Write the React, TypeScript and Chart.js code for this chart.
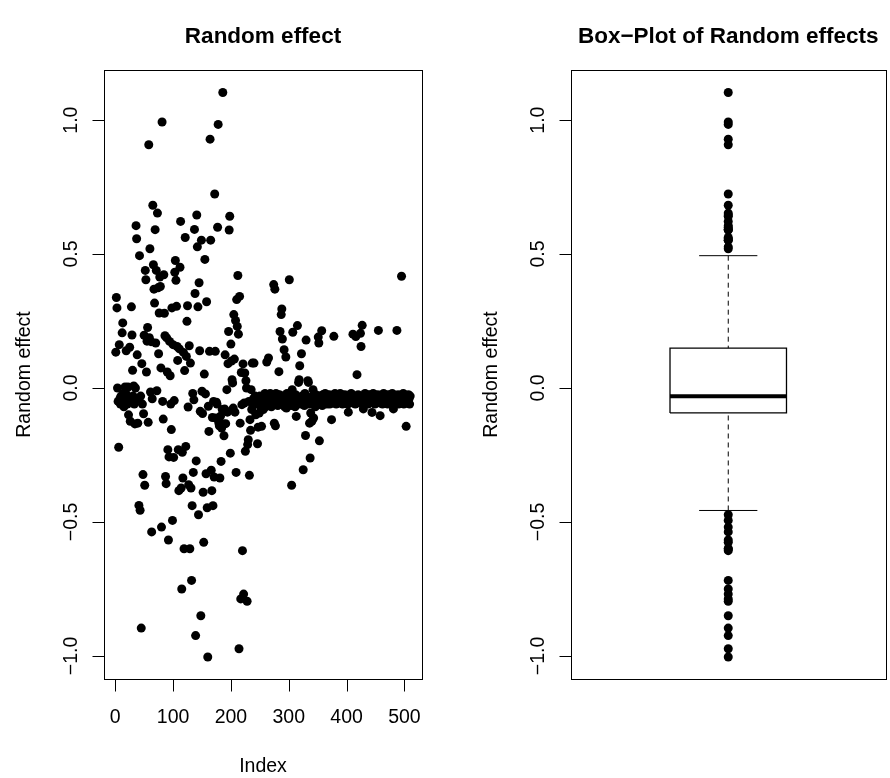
import React, { useEffect, useRef } from "react";
import { Chart, registerables } from "chart.js";

Chart.register(...registerables);

// ---- data ----
const randomEffect: number[] = [
  0.134, 0.338, 0.299, 0.0, -0.05, -0.221, 0.162, -0.04, -0.06, -0.03,
  -0.05, 0.206, 0.243, -0.02, -0.07, -0.03, 0.004, -0.05, 0.139, -0.025,
  -0.06, 0.004, -0.1, -0.04, 0.152, -0.124, -0.05, 0.303, 0.198, 0.066,
  -0.03, 0.008, -0.06, -0.134, 0.0, 0.606, 0.557, 0.124, -0.131, -0.04,
  -0.438, 0.494, -0.456, -0.03, -0.896, 0.091, -0.06, -0.323, -0.096, 0.197,
  -0.363, 0.439, 0.404, 0.06, 0.175, 0.226, -0.128, 0.908, 0.188, 0.52,
  -0.015, 0.173, -0.537, -0.04, 0.682, 0.46, 0.369, 0.317, 0.591, 0.168,
  0.439, -0.01, 0.653, 0.374, 0.128, 0.28, 0.414, 0.379, 0.075, -0.519,
  0.993, -0.05, -0.116, 0.423, 0.279, 0.195, -0.33, -0.357, 0.187, 0.06,
  -0.23, -0.567, -0.257, 0.174, 0.046, -0.06, -0.155, 0.299, -0.494, 0.162,
  -0.259, -0.047, 0.432, 0.476, 0.402, 0.305, 0.155, 0.103, -0.23, -0.383,
  0.146, 0.451, 0.622, -0.373, -0.75, -0.24, -0.336, 0.133, -0.6, 0.065,
  0.562, -0.218, 0.118, 0.249, 0.307, -0.071, -0.361, 0.158, -0.6, 0.093,
  -0.373, -0.718, -0.439, -0.02, -0.315, -0.044, 0.592, 0.353, -0.924, -0.272,
  0.646, 0.527, 0.303, -0.473, 0.393, 0.139, -0.087, -0.85, 0.552, -0.012,
  -0.095, -0.389, -0.576, 0.052, 0.48, -0.022, -0.32, 0.322, -0.447, -1.004,
  -0.068, -0.162, 0.137, 0.929, 0.552, -0.307, -0.383, -0.11, -0.439, -0.05,
  -0.332, 0.724, 0.137, -0.112, -0.053, -0.06, 0.6, 0.984, -0.13, -0.141,
  -0.336, -0.105, -0.274, -0.149, -0.08, 1.103, -0.134, -0.178, -0.078, 0.124,
  -0.133, -0.087, -0.006, -0.09, 0.091, 0.211, 0.59, 0.641, -0.243, 0.164,
  0.101, 0.031, 0.019, -0.075, 0.274, 0.108, -0.09, 0.252, -0.315, 0.33,
  0.23, 0.42, 0.201, -0.973, 0.342, -0.131, -0.787, 0.058, -0.062, -0.607,
  0.09, -0.769, -0.056, 0.056, -0.236, 0.027, 0.0, -0.796, -0.211, -0.193,
  -0.05, -0.326, -0.118, -0.158, -0.006, -0.08, 0.093, -0.058, -0.04, 0.093,
  -0.05, -0.03, -0.1, -0.06, -0.04, -0.208, -0.146, -0.05, -0.093, -0.03,
  -0.068, -0.045, -0.143, -0.06, -0.03, -0.08, -0.04, -0.05, -0.02, -0.07,
  -0.04, 0.097, -0.05, -0.03, 0.112, -0.06, -0.04, -0.02, -0.05, -0.07,
  -0.03, -0.045, -0.06, 0.386, -0.131, 0.369, -0.141, -0.02, -0.05, -0.035,
  -0.065, -0.04, 0.061, -0.025, 0.211, -0.055, 0.274, 0.295, 0.183, -0.03,
  -0.05, 0.143, -0.07, -0.035, 0.116, -0.075, -0.02, -0.045, -0.06, -0.03,
  0.404, -0.05, -0.04, -0.065, -0.363, -0.006, 0.208, -0.03, -0.055, -0.04,
  -0.07, -0.025, -0.106, -0.05, 0.233, -0.035, 0.021, 0.031, 0.083, -0.045,
  -0.06, 0.128, -0.03, -0.05, -0.305, -0.04, -0.065, -0.02, -0.177, 0.179,
  -0.05, -0.035, 0.027, 0.021, -0.06, -0.131, -0.261, -0.093, -0.04, -0.124,
  -0.03, -0.006, -0.112, -0.055, -0.045, -0.07, -0.025, -0.05, -0.04, -0.06,
  0.19, 0.168, -0.197, -0.03, -0.05, -0.04, 0.214, -0.065, -0.025, -0.045,
  -0.035, -0.055, -0.02, -0.05, -0.04, -0.06, -0.03, -0.045, -0.05, -0.025,
  -0.06, -0.035, -0.04, -0.118, -0.05, -0.03, -0.055, 0.193, -0.04, -0.02,
  -0.045, -0.06, -0.03, -0.05, -0.035, -0.025, -0.055, -0.04, -0.02, -0.05,
  -0.045, -0.03, -0.06, -0.035, -0.04, -0.05, -0.025, -0.055, -0.03, -0.045,
  -0.04, -0.06, -0.09, -0.03, -0.05, -0.035, -0.045, -0.02, -0.055, -0.04,
  0.201, -0.03, -0.05, -0.045, -0.06, 0.192, -0.035, 0.05, -0.04, -0.025,
  -0.055, -0.03, -0.05, 0.204, 0.155, -0.04, 0.234, -0.06, -0.078, -0.035,
  -0.045, -0.02, -0.05, -0.03, -0.055, -0.04, -0.06, -0.035, -0.025, -0.05,
  -0.04, -0.03, -0.055, -0.091, -0.045, -0.02, -0.05, -0.035, -0.06, -0.04,
  -0.03, -0.05, -0.045, -0.025, 0.215, -0.055, -0.04, -0.103, -0.035, -0.05,
  -0.03, -0.06, -0.045, -0.02, -0.04, -0.055, -0.035, -0.05, -0.03, -0.045,
  -0.06, -0.025, -0.04, -0.05, -0.035, -0.055, -0.03, -0.045, -0.02, -0.05,
  -0.078, -0.04, -0.03, -0.055, -0.045, -0.035, 0.215, -0.05, -0.025, -0.06,
  -0.04, -0.03, -0.055, -0.045, 0.417, -0.035, -0.05, -0.02, -0.06, -0.04,
  -0.03, -0.045, -0.143, -0.055, -0.035, -0.05, -0.025, -0.04, -0.06, -0.03,
];

// lower whisker, Q1, median, Q3, upper whisker
const boxFive: number[] = [-0.457, -0.093, -0.031, 0.149, 0.494];

const indexTicks: number[] = [0, 100, 200, 300, 400, 500];
const indexTickLabels: string[] = ["0", "100", "200", "300", "400", "500"];
const effectTicks: number[] = [-1.0, -0.5, 0.0, 0.5, 1.0];
const effectTickLabels: string[] = ["\u22121.0", "\u22120.5", "0.0", "0.5", "1.0"];

// ---- layout / style ----
const FONT = '"Liberation Sans", Arial, Helvetica, sans-serif';
const Y_MIN = -1.086;
const Y_MAX = 1.187;
const TICK = 12;
const DOT = 4.5;

type AxesCfg = {
  title: string;
  yTitle: string;
  xTitle?: string;
  xTicks?: number[];
  xLabels?: string[];
};

function rAxesPlugin(cfg: AxesCfg) {
  return {
    id: "rAxes",
    afterDraw(chart: any) {
      const { ctx, chartArea: a } = chart;
      const xs = chart.scales.x;
      const ys = chart.scales.y;
      ctx.save();
      ctx.strokeStyle = "#000";
      ctx.fillStyle = "#000";
      ctx.lineWidth = 1;
      const L = Math.round(a.left) + 0.5;
      const T = Math.round(a.top) + 0.5;
      const R = Math.round(a.right) + 0.5;
      const B = Math.round(a.bottom) + 0.5;
      ctx.strokeRect(L, T, R - L, B - T);

      // y axis
      ctx.font = `19.5px ${FONT}`;
      effectTicks.forEach((t, i) => {
        const p = ys.getPixelForValue(t);
        const py = Math.round(p) + 0.5;
        ctx.beginPath();
        ctx.moveTo(L, py);
        ctx.lineTo(L - TICK, py);
        ctx.stroke();
        ctx.save();
        ctx.translate(a.left - 27.5, p);
        ctx.rotate(-Math.PI / 2);
        ctx.textAlign = "center";
        ctx.textBaseline = "alphabetic";
        ctx.fillText(effectTickLabels[i], 0, 0);
        ctx.restore();
      });
      ctx.save();
      ctx.translate(a.left - 74, (a.top + a.bottom) / 2);
      ctx.rotate(-Math.PI / 2);
      ctx.textAlign = "center";
      ctx.textBaseline = "alphabetic";
      ctx.fillText(cfg.yTitle, 0, 0);
      ctx.restore();

      // x axis
      if (cfg.xTicks && cfg.xLabels) {
        ctx.textAlign = "center";
        ctx.textBaseline = "alphabetic";
        cfg.xTicks.forEach((t, i) => {
          const p = xs.getPixelForValue(t);
          const px = Math.round(p) + 0.5;
          ctx.beginPath();
          ctx.moveTo(px, B);
          ctx.lineTo(px, B + TICK);
          ctx.stroke();
          ctx.fillText(cfg.xLabels![i], p, a.bottom + 44);
        });
      }
      if (cfg.xTitle) {
        ctx.textAlign = "center";
        ctx.fillText(cfg.xTitle, (a.left + a.right) / 2, a.bottom + 92.5);
      }

      // main title
      ctx.font = `bold 22.5px ${FONT}`;
      ctx.textAlign = "center";
      ctx.textBaseline = "alphabetic";
      ctx.fillText(cfg.title, (a.left + a.right) / 2, 43);
      ctx.restore();
    },
  };
}

const baseOptions = (xMin: number, xMax: number, padding: any) => ({
  responsive: false,
  animation: false as const,
  events: [] as any[],
  layout: { padding },
  plugins: { legend: { display: false }, tooltip: { enabled: false } },
  scales: {
    x: { type: "linear" as const, min: xMin, max: xMax, display: false },
    y: { type: "linear" as const, min: Y_MIN, max: Y_MAX, display: false },
  },
});

function IndexPlot() {
  const ref = useRef<HTMLCanvasElement | null>(null);
  useEffect(() => {
    if (!ref.current) return;
    const pts = randomEffect.map((v, i) => ({ x: i + 1, y: v }));
    const chart = new Chart(ref.current, {
      type: "scatter",
      data: {
        datasets: [
          {
            data: pts,
            pointRadius: DOT,
            pointHoverRadius: DOT,
            pointBorderWidth: 0,
            pointBackgroundColor: "#000",
            backgroundColor: "#000",
          },
        ],
      },
      options: baseOptions(-19.4, 530.4, { left: 104, right: 23, top: 70, bottom: 99 }) as any,
      plugins: [
        rAxesPlugin({
          title: "Random effect",
          yTitle: "Random effect",
          xTitle: "Index",
          xTicks: indexTicks,
          xLabels: indexTickLabels,
        }),
      ],
    });
    return () => chart.destroy();
  }, []);
  return (
    <canvas
      ref={ref}
      width={445}
      height={778}
      style={{ position: "absolute", left: 0, top: 0, width: 445, height: 778 }}
    />
  );
}

function BoxPlot() {
  const ref = useRef<HTMLCanvasElement | null>(null);
  useEffect(() => {
    if (!ref.current) return;
    const [lw, q1, med, q3, uw] = boxFive;
    const outliers = randomEffect.filter((v) => v > uw || v < lw).map((v) => ({ x: 1, y: v }));
    const line = (data: any[], width: number, dash: number[] = []) => ({
      data,
      showLine: true,
      borderColor: "#000",
      borderWidth: width,
      borderDash: dash,
      pointRadius: 0,
      pointHoverRadius: 0,
      fill: false,
      tension: 0,
    });
    const chart = new Chart(ref.current, {
      type: "scatter",
      data: {
        datasets: [
          line([{ x: 1, y: uw }, { x: 1, y: q3 }], 1, [5, 4]),
          line([{ x: 1, y: lw }, { x: 1, y: q1 }], 1, [5, 4]),
          line([{ x: 0.9, y: uw }, { x: 1.1, y: uw }], 1),
          line([{ x: 0.9, y: lw }, { x: 1.1, y: lw }], 1),
          line(
            [
              { x: 0.8, y: q1 },
              { x: 1.2, y: q1 },
              { x: 1.2, y: q3 },
              { x: 0.8, y: q3 },
              { x: 0.8, y: q1 },
            ],
            1.3
          ),
          line([{ x: 0.8, y: med }, { x: 1.2, y: med }], 4),
          {
            data: outliers,
            pointRadius: DOT,
            pointHoverRadius: DOT,
            pointBorderWidth: 0,
            pointBackgroundColor: "#000",
            backgroundColor: "#000",
          },
        ] as any,
      },
      options: baseOptions(0.46, 1.54, { left: 126, right: 1, top: 70, bottom: 99 }) as any,
      plugins: [rAxesPlugin({ title: "Box\u2212Plot of Random effects", yTitle: "Random effect" })],
    });
    return () => chart.destroy();
  }, []);
  return (
    <canvas
      ref={ref}
      width={445}
      height={778}
      style={{ position: "absolute", left: 445, top: 0, width: 445, height: 778 }}
    />
  );
}

export default function App() {
  return (
    <div
      style={{
        position: "fixed",
        left: 0,
        top: 0,
        width: 890,
        height: 778,
        background: "#fff",
        overflow: "hidden",
      }}
    >
      <IndexPlot />
      <BoxPlot />
    </div>
  );
}
